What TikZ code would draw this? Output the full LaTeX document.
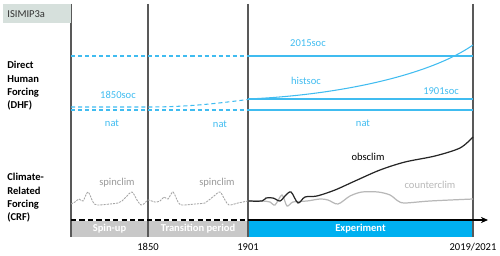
\documentclass[tikz,border=0pt]{standalone}
\usepackage{fontspec}
\setmainfont{Carlito}
\usetikzlibrary{arrows.meta, positioning}
\definecolor{expblue}{RGB}{0,176,240}
\definecolor{socblue}{RGB}{64,188,240}
\definecolor{pergray}{RGB}{200,200,200}
\definecolor{tagbg}{RGB}{214,224,220}

\begin{document}
\begin{tikzpicture}[x=0.02cm, y=-0.02cm,
    every node/.style={font=\fontsize{6}{7}\selectfont, inner sep=0pt},
    tag/.style={fill=tagbg, text=black!80, anchor=north west, text width=1.2cm, align=left, inner xsep=0.08cm, minimum height=0.38cm},
    side/.style={anchor=west, align=left, font=\fontsize{6}{7.2}\selectfont\bfseries},
    soclbl/.style={text=socblue},
    soc/.style={draw=socblue, line width=0.6pt},
    socdash/.style={soc, dash pattern=on 2.3pt off 1.7pt},
    sep/.style={draw=black!65, line width=0.8pt},
    per/.style={fill=pergray, text=white, font=\fontsize{6}{7}\selectfont\bfseries, minimum height=0.32cm},
    clim/.style={line width=0.7pt}
]
\useasboundingbox (0,0) rectangle (500,256);

% time axis positions
\coordinate (t0) at (71,0);
\coordinate (t1) at (148,0);
\coordinate (t2) at (248,0);
\coordinate (t3) at (473,0);

% period boxes
\node[per, minimum width=1.51cm] (spin) at (109.5,229) {Spin-up};
\node[per, minimum width=1.98cm] (trans) at (198,229) {Transition period};
\node[per, minimum width=4.5cm, fill=expblue] (exp) at (360.5,229) {Experiment};

% separators
\foreach \t in {t0,t1,t2,t3}
  \draw[sep] ([yshift=-0.08cm]\t) -- ([yshift=-4.74cm]\t);

\node[tag] (isi) at (3,4) {ISIMIP3a};

\node[side] (dhf) at (7,86) {Direct\\[0.4pt]Human\\[0.4pt]Forcing\\[0.4pt](DHF)};
\node[side] (crf) at (7,198) {Climate-\\[0.4pt]Related\\[0.4pt]Forcing\\[0.4pt](CRF)};

% direct human forcing
\draw[socdash] (71,56) -- (248,56);
\draw[soc] (248,56) -- (473,56);
\draw[socdash] (71,107) -- (148,107) .. controls (190,107) and (220,103) .. (248,99.5);
\draw[socdash] (71,110) -- (248,110);
\draw[soc] (248,110) -- (473,110);
\draw[soc] (248,99) -- (473,99);
\draw[soc] (248,99) .. controls (340,95) and (430,75) .. (473,45);

\node[soclbl] (s2015) at (308,43) {2015soc};
\node[soclbl] (hist) at (306,81) {histsoc};
\node[soclbl] (s1901) at (441,91) {1901soc};
\node[soclbl] (s1850) at (118,95) {1850soc};
\node[soclbl] (nat1) at (112,123) {nat};
\node[soclbl] (nat2) at (220,124) {nat};
\node[soclbl] (nat3) at (363,123) {nat};

% climate related forcing
\draw[black!35, line width=0.5pt, dash pattern=on 1.2pt off 0.6pt] plot[smooth] coordinates {
  (71,204) (75,202) (79,199) (83,201) (88,192) (93,202) (97,205) (110,204) (118,203) (122,201)
  (126,197) (132,192) (137,200) (141,205) (145,203) (148,200)
  (155,202) (160,201) (164,197) (168,199) (173,192) (178,202) (182,205) (195,204) (205,203)
  (209,200) (214,196) (220,192) (225,200) (229,205) (238,203) (248,201)};
\node[text=black!40] (spin1) at (117,183) {spinclim};
\node[text=black!40] (spin2) at (217,183) {spinclim};

\draw[clim, black!28] plot[smooth] coordinates {
  (248,201) (262,201) (270,202) (275,205) (282,195) (287,206) (293,202) (307,201) (320,199)
  (328,200) (338,204) (350,196) (362,192) (378,192) (390,195) (398,201) (405,203) (430,201) (473,199)};
\draw[clim, black!85] plot[smooth] coordinates {
  (248,201) (262,201) (266,198) (273,198) (280,201) (285,196) (291,192) (298,203) (305,197)
  (317,196) (335,190) (355,181) (380,170) (405,162) (435,156) (460,148) (473,137)};
\node (obs) at (368,157) {obsclim};
\node[text=black!28] (counter) at (430,185) {counterclim};

% time axis
\draw[line width=1pt, dash pattern=on 3pt off 1.8pt] (71,220) -- (248,220);
\draw[line width=1pt, -{Stealth[length=4pt, width=3.5pt]}] (248,220) -- (488,220);

\node (y1850) at (148,247) {1850};
\node (y1901) at (248,247) {1901};
\node (y2019) at (473,247) {2019/2021};
\end{tikzpicture}
\end{document}
